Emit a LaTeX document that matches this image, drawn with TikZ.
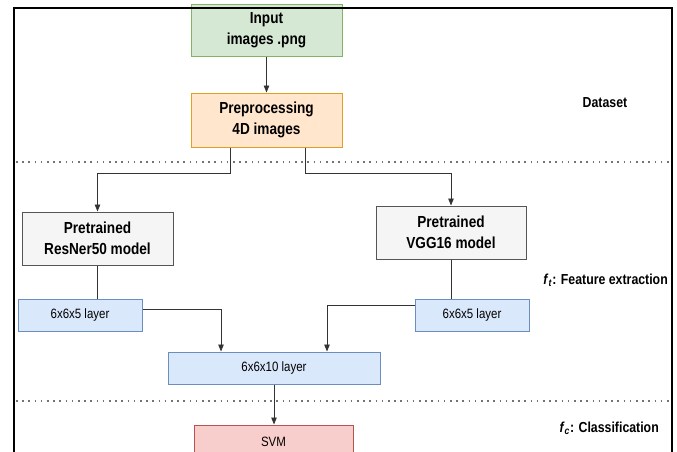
\documentclass[tikz,border=0pt]{standalone}
\usepackage{fontspec}
\setmainfont[FakeStretch=0.85]{Liberation Sans}
\usetikzlibrary{arrows.meta}
\definecolor{gfill}{HTML}{D5E8D4}\definecolor{gdraw}{HTML}{82B366}
\definecolor{ofill}{HTML}{FFE6CC}\definecolor{odraw}{HTML}{E0A020}
\definecolor{kfill}{HTML}{F5F5F5}\definecolor{kdraw}{HTML}{555555}
\definecolor{bfill}{HTML}{DAE8FC}\definecolor{bdraw}{HTML}{6C8EBF}
\definecolor{rfill}{HTML}{F8CECC}\definecolor{rdraw}{HTML}{B85450}
\definecolor{conn}{HTML}{333333}
\tikzset{
  box/.style={draw, line width=1pt, inner sep=0pt, align=center},
  bigtxt/.style={font=\fontsize{16}{21}\selectfont\bfseries},
  smalltxt/.style={font=\fontsize{13.5}{16}\selectfont},
  lbl/.style={font=\fontsize{14.5}{17}\selectfont\bfseries, inner sep=0pt},
  arr/.style={draw=conn, line width=0.9pt, -{Triangle[length=7pt,width=5.5pt]}},
  plain/.style={draw=conn, line width=0.9pt},
  dotsep/.style={draw=black!55, line width=1.6pt, dash pattern=on 1.6pt off 4.6pt},
}
\begin{document}
\begin{tikzpicture}[x=1pt,y=-1pt]
\clip (0,0) rectangle (677,451);
\fill[white] (0,0) rectangle (677,451);
% boxes
\node[box, bigtxt, fill=gfill, draw=gdraw, minimum width=151pt, minimum height=52pt] (in) at (266.5,30.5) {Input\\images .png};
\node[box, bigtxt, fill=ofill, draw=odraw, minimum width=151pt, minimum height=54pt] (pre) at (266.5,120) {Preprocessing\\4D images};
\node[box, bigtxt, fill=kfill, draw=kdraw, minimum width=151pt, minimum height=53pt] (res) at (97.5,238.5) {Pretrained\\ResNer50 model};
\node[box, bigtxt, fill=kfill, draw=kdraw, minimum width=150pt, minimum height=53pt] (vgg) at (451,232.5) {Pretrained\\VGG16 model};
\node[box, smalltxt, fill=bfill, draw=bdraw, minimum width=124pt, minimum height=32pt] (l5) at (80,315) {6x6x5 layer};
\node[box, smalltxt, fill=bfill, draw=bdraw, minimum width=114pt, minimum height=32pt] (r5) at (472,315) {6x6x5 layer};
\node[box, smalltxt, fill=bfill, draw=bdraw, minimum width=212pt, minimum height=32pt] (l10) at (274,368) {6x6x10 layer};
\node[box, smalltxt, fill=rfill, draw=rdraw, minimum width=159pt, minimum height=34pt] (svm) at (273.5,442) {SVM};
% labels
\node[lbl] (ds) at (605,103) {Dataset};
\node[lbl, anchor=east] (fe) at (668,280) {\textit{f}\textsubscript{\textit{t}}: Feature extraction};
\node[lbl, anchor=east] (cl) at (659,428) {\textit{f}\textsubscript{\textit{c}}: Classification};
% dotted separators
\draw[dotsep] (16,162) -- (672,162);
\draw[dotsep] (16,401) -- (672,401);
% connectors
\draw[arr] (in) -- (pre);
\draw[arr] ([xshift=-36.5pt]pre.south) -- ++(0,26) -| (res.north);
\draw[arr] ([xshift=38.5pt]pre.south) -- ++(0,26) -| (vgg.north);
\draw[plain] (res.south) -- (res.south |- l5.north);
\draw[plain] (vgg.south) -- (vgg.south |- r5.north);
\draw[arr] ([yshift=6pt]l5.east) -| ([xshift=-53pt]l10.north);
\draw[arr] ([yshift=10pt]r5.west) -| ([xshift=53pt]l10.north);
\draw[arr] (l10.south) -- (l10.south |- svm.north);
% frame
\draw[black, line width=2pt] (14,470) -- (14,7.5) -- (672,7.5) -- (672,470);
\end{tikzpicture}
\end{document}
